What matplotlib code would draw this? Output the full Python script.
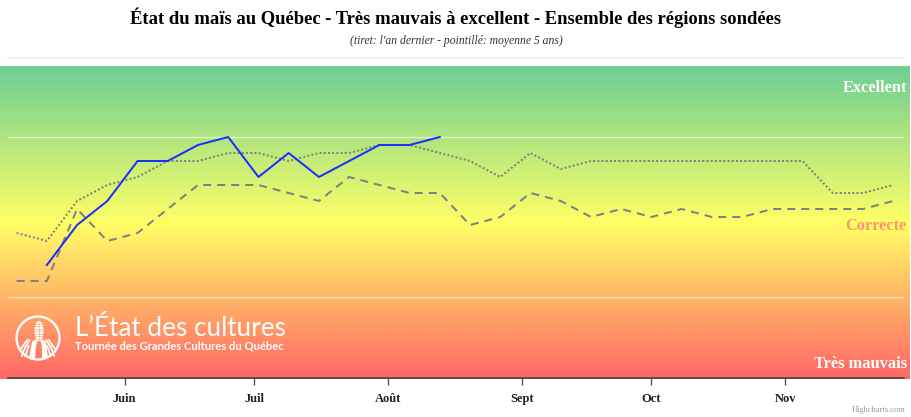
import matplotlib
matplotlib.use("Agg")
import matplotlib.pyplot as plt
import matplotlib.dates as mdates
import numpy as np
from datetime import date, timedelta
from matplotlib.colors import LinearSegmentedColormap
from matplotlib.patches import Circle, Ellipse, Polygon

#%% données (indice: 1 = très mauvais ... 5 = excellent)
debut = date(2023, 5, 7)
semaines = [debut + timedelta(weeks=i) for i in range(30)]
semaines_annee = semaines[1:15]
annee = [3.2, 3.45, 3.6, 3.85, 3.85, 3.95, 4.0, 3.75, 3.9, 3.75, 3.85, 3.95, 3.95, 4.0]
an_dernier = [3.1, 3.1, 3.55, 3.35, 3.4, 3.55, 3.7, 3.7, 3.7, 3.65,
              3.6, 3.75, 3.7, 3.65, 3.65, 3.45, 3.5, 3.65, 3.6, 3.5,
              3.55, 3.5, 3.55, 3.5, 3.5, 3.55, 3.55, 3.55, 3.55, 3.6]
moyenne_5ans = [3.4, 3.35, 3.6, 3.7, 3.75, 3.85, 3.85, 3.9, 3.9, 3.85,
                3.9, 3.9, 3.95, 3.95, 3.9, 3.85, 3.75, 3.9, 3.8, 3.85,
                3.85, 3.85, 3.85, 3.85, 3.85, 3.85, 3.85, 3.65, 3.65, 3.7]
mois = [date(2023, m, 1) for m in range(6, 12)]
noms_mois = ["Juin", "Juil", "Août", "Sept", "Oct", "Nov"]
grille = [3, 4]

W, H = 912, 417
serif = "Liberation Serif"

fig = plt.figure(figsize=(W / 100, H / 100), dpi=100)
fig.patch.set_facecolor("white")

# fond en dégradé (vert -> jaune -> rouge)
fond = fig.add_axes([0, (H - 379) / H, 910 / W, 313 / H])
cmap = LinearSegmentedColormap.from_list("etat", ["#6ccf94", "#ffff66", "#ff6666"])
fond.imshow(np.linspace(0, 1, 256).reshape(-1, 1), aspect="auto", cmap=cmap,
            extent=[0, 1, 0, 1])
fond.axis("off")

###
### graphique principal
ax = fig.add_axes([8 / W, (H - 378) / H, 896 / W, 312 / H])
ax.patch.set_alpha(0)
lw = 1.44
ax.plot(semaines, moyenne_5ans, color="#808080", lw=lw, linestyle=(0, (1, 1.1)), zorder=3)
ax.plot(semaines, an_dernier, color="#808080", lw=lw, linestyle=(0, (4, 3)), zorder=3)
ax.plot(semaines_annee, annee, color="#1a30ff", lw=lw, zorder=4)

ax.set_xlim(date(2023, 5, 5), mdates.num2date(mdates.date2num(date(2023, 5, 5)) + 207.5))
ax.set_ylim(3 - 81 / 160, 4 + 71 / 160)
ax.set_yticks(grille)
ax.yaxis.grid(True, color="white", alpha=0.6, lw=1)
ax.tick_params(axis="y", left=False, labelleft=False)
ax.set_xticks(mois)
ax.set_xticklabels(noms_mois, fontfamily=serif, fontweight="bold", fontsize=9, color="#222222")
ax.tick_params(axis="x", length=5, width=1, color="#555555", pad=6)
for s in ["top", "left", "right"]:
    ax.spines[s].set_visible(False)
ax.spines["bottom"].set_color("#444444")
ax.spines["bottom"].set_linewidth(1.2)
ax.set_axisbelow(True)

###
### textes et logo (coordonnées en pixels)
ov = fig.add_axes([0, 0, 1, 1], zorder=10)
ov.set_xlim(0, W)
ov.set_ylim(H, 0)
ov.axis("off")
ov.patch.set_alpha(0)

ov.text(W / 2, 18, "État du maïs au Québec - Très mauvais à excellent - Ensemble des régions sondées",
        ha="center", va="center", fontfamily=serif, fontweight="bold", fontsize=13.4, color="black")
ov.text(W / 2, 41, "(tiret: l'an dernier - pointillé: moyenne 5 ans)",
        ha="center", va="center", fontfamily=serif, fontstyle="italic", fontsize=8.4, color="#333333")
ov.plot([8, 903], [57.5, 57.5], color="#f0f0f0", lw=1.5)

ov.text(907, 88, "Excellent", ha="right", va="center", fontfamily=serif,
        fontweight="bold", fontsize=11.8, color="white")
ov.text(907, 226, "Correcte", ha="right", va="center", fontfamily=serif,
        fontweight="bold", fontsize=11.8, color="#ff9472")
ov.text(907, 364, "Très mauvais", ha="right", va="center", fontfamily=serif,
        fontweight="bold", fontsize=11.8, color="white")
ov.text(905, 410, "Highcharts.com", ha="right", va="center", fontfamily=serif,
        fontsize=6, color="#999999")

# logo
cx, cy = 38, 338
ov.add_patch(Circle((cx, cy), 21.5, fill=False, ec="white", lw=1.7))
ov.add_patch(Ellipse((cx + 1, cy - 7), 9, 20, fc="white", ec="none"))
for k in range(-3, 4):
    ov.plot([cx - 3.5, cx + 5.5], [cy - 7 + 2.5 * k, cy - 7 + 2.5 * k], color="#ffa070", lw=0.4)
ov.plot([cx + 1, cx + 1], [cy - 16, cy + 2], color="#ffa070", lw=0.4)
ov.add_patch(Polygon([[cx - 9, cy + 20], [cx - 6, cy + 4], [cx + 1, cy - 2], [cx - 2, cy + 8], [cx - 3, cy + 21]],
                     fc="white", ec="none"))
ov.add_patch(Polygon([[cx + 10, cy + 20], [cx + 8, cy + 4], [cx + 1, cy - 2], [cx + 4, cy + 8], [cx + 4, cy + 21]],
                     fc="white", ec="none"))
for dx in [-18, -14, 14, 18]:
    sgn = 1 if dx > 0 else -1
    ov.plot([cx + dx * 0.6, cx + dx], [cy + 2, cy + 12], color="white", lw=1.2)
    ov.plot([cx + dx * 0.8 - sgn * 2, cx + dx * 0.9], [cy + 8, cy + 18], color="white", lw=1.2)

ov.text(75, 328, "L’État des cultures", ha="left", va="center", fontfamily="Lato",
        fontsize=18.8, color="white")
ov.text(75, 346, "Tournée des Grandes Cultures du Québec", ha="left", va="center",
        fontfamily="Lato", fontweight="bold", fontsize=8.1, color="white")

plt.savefig("out.png", dpi=100)
